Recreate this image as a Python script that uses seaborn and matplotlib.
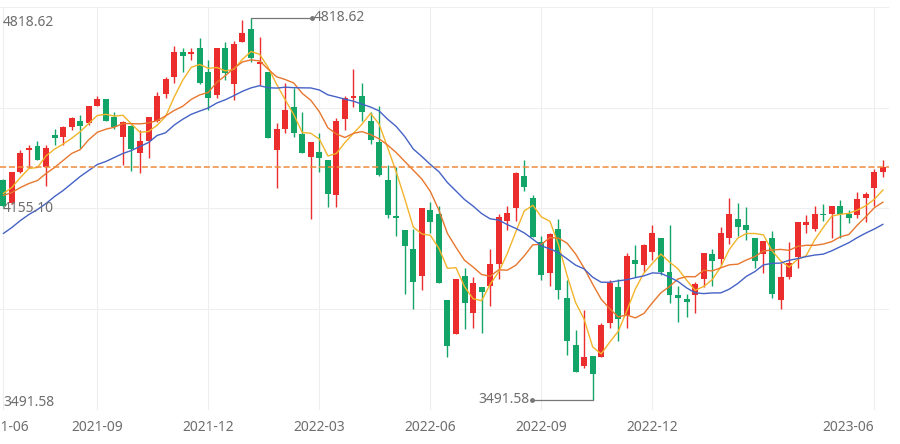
import numpy as np
import pandas as pd
import matplotlib
matplotlib.use("Agg")
import matplotlib.pyplot as plt
import seaborn as sns

# ---------------- data (weekly candles) ----------------
dates = pd.date_range("2021-06-18", periods=104, freq="7D").strftime("%Y-%m-%d").tolist()

open_ = [4252.4, 4172.5, 4283.6, 4356.6, 4370.5, 4297.6, 4408.7, 4405.2, 4436.5, 4460.8,
         4450.4, 4512.9, 4533.8, 4471.3, 4401.8, 4440.0, 4346.2, 4391.3, 4460.8, 4554.6,
         4610.2, 4700.5, 4690.1, 4711.0, 4627.6, 4547.7, 4711.0, 4589.3, 4731.8, 4777.0,
         4658.8, 4631.0, 4356.6, 4433.0, 4506.0, 4412.2, 4332.3, 4353.1, 4325.3, 4203.7,
         4464.3, 4540.7, 4544.2, 4460.8, 4384.4, 4252.4, 4127.3, 4078.7, 4012.7, 3918.9,
         4148.2, 4134.3, 3835.5, 3717.4, 3918.9, 3793.8, 3880.7, 3884.2, 3964.0, 4110.0,
         4155.1, 4266.3, 4193.3, 4037.0, 3929.3, 4082.2, 3845.9, 3679.2, 3609.5, 3644.4,
         3637.5, 3759.0, 3880.7, 3783.4, 3977.9, 3957.1, 4005.7, 4050.9, 3936.2, 3852.9,
         3839.0, 3852.9, 3911.9, 3995.3, 3981.4, 4050.9, 4116.9, 4096.1, 4050.9, 3995.3,
         4050.9, 3835.5, 3915.4, 3984.9, 4099.5, 4085.6, 4134.3, 4134.3, 4165.5, 4137.7,
         4130.8, 4193.3, 4224.6, 4283.6]
high = [4259.3, 4283.6, 4356.6, 4374.0, 4391.3, 4374.0, 4429.6, 4440.0, 4471.3, 4478.2,
        4512.9, 4544.2, 4537.2, 4488.6, 4457.4, 4443.5, 4426.1, 4474.7, 4558.1, 4610.2,
        4717.9, 4714.4, 4711.0, 4745.7, 4672.7, 4711.0, 4731.8, 4735.3, 4808.2, 4818.62,
        4749.2, 4631.0, 4450.4, 4592.7, 4572.0, 4488.6, 4384.4, 4415.7, 4325.3, 4467.8,
        4544.2, 4638.0, 4592.7, 4488.6, 4512.9, 4304.5, 4297.6, 4078.7, 4085.6, 4155.1,
        4176.0, 4165.5, 3835.5, 3911.9, 3946.7, 3915.4, 3880.7, 4012.7, 4137.7, 4165.5,
        4280.2, 4325.3, 4203.7, 4061.3, 4071.7, 4116.9, 3905.0, 3734.7, 3804.2, 3644.4,
        3759.0, 3905.0, 3908.5, 3998.8, 4026.6, 4033.5, 4099.5, 4050.9, 4099.5, 3884.2,
        3859.8, 3901.5, 3998.8, 4016.1, 4089.1, 4193.3, 4172.5, 4158.6, 4050.9, 4043.9,
        4075.2, 3967.5, 4037.0, 4106.5, 4130.8, 4162.1, 4169.0, 4165.5, 4182.9, 4151.6,
        4210.7, 4210.7, 4290.6, 4321.9]
low = [4158.6, 4169.0, 4276.7, 4294.1, 4321.9, 4235.0, 4374.0, 4374.0, 4426.1, 4367.0,
       4446.9, 4509.5, 4457.4, 4429.6, 4304.5, 4287.1, 4276.7, 4328.8, 4453.9, 4540.7,
       4592.7, 4627.6, 4672.7, 4589.3, 4495.6, 4540.7, 4599.8, 4530.3, 4731.8, 4662.3,
       4582.4, 4398.3, 4224.6, 4415.7, 4401.8, 4346.2, 4116.9, 4280.2, 4158.6, 4158.6,
       4426.1, 4506.0, 4460.8, 4380.9, 4266.3, 4123.8, 4061.3, 3859.8, 3807.7, 3873.7,
       4071.7, 3898.0, 3637.5, 3717.4, 3738.2, 3741.7, 3720.9, 3818.1, 3911.9, 4078.7,
       4110.0, 4217.6, 4057.8, 3905.0, 3887.6, 3839.0, 3647.9, 3585.4, 3602.7, 3491.58,
       3637.5, 3741.7, 3696.5, 3741.7, 3915.4, 3932.8, 3974.5, 3922.4, 3825.1, 3762.5,
       3779.9, 3793.8, 3880.7, 3884.2, 3957.1, 4033.5, 4061.3, 4047.4, 3946.7, 3929.3,
       3845.9, 3807.7, 3911.9, 3950.1, 4071.7, 4075.2, 4110.0, 4050.9, 4050.9, 4103.0,
       4120.4, 4106.5, 4165.5, 4262.8]
close = [4165.5, 4280.2, 4349.6, 4367.0, 4325.3, 4367.0, 4398.3, 4436.5, 4467.8, 4440.0,
         4509.5, 4537.2, 4457.4, 4436.5, 4453.9, 4360.1, 4391.3, 4471.3, 4544.2, 4606.7,
         4697.1, 4683.2, 4697.1, 4592.7, 4540.7, 4711.0, 4624.1, 4724.9, 4766.5, 4676.2,
         4662.3, 4398.3, 4429.6, 4499.0, 4419.1, 4349.6, 4384.4, 4328.8, 4207.2, 4460.8,
         4540.7, 4544.2, 4488.6, 4394.8, 4273.2, 4130.8, 4123.8, 4023.1, 3901.5, 4155.1,
         4106.5, 3898.0, 3675.7, 3911.9, 3825.1, 3898.0, 3863.3, 3960.6, 4127.3, 4141.2,
         4276.7, 4228.1, 4057.8, 3925.8, 4064.8, 3873.7, 3693.1, 3585.4, 3637.5, 3581.9,
         3752.1, 3898.0, 3772.9, 3991.8, 3964.0, 4026.6, 4068.3, 3932.8, 3852.9, 3845.9,
         3832.0, 3891.1, 3998.8, 3971.0, 4068.3, 4134.3, 4089.1, 4078.7, 3971.0, 4043.9,
         3859.8, 3915.4, 3967.5, 4106.5, 4106.5, 4134.3, 4130.8, 4165.5, 4137.7, 4123.8,
         4189.8, 4207.2, 4280.2, 4297.6]

# moving averages for the first weeks (window starts before the visible range)
ma5_head = [4207.2, 4228.1, 4262.8, 4294.1]
ma10_head = [4200.3, 4210.7, 4228.1, 4241.9, 4252.4, 4276.7, 4297.6, 4321.9, 4346.2]
ma20_head = [4068.3, 4089.1, 4113.4, 4134.3, 4151.6, 4172.5, 4196.8, 4217.6, 4241.9, 4266.3,
             4287.1, 4307.9, 4318.4, 4332.3, 4346.2, 4356.6, 4370.5, 4384.4, 4408.7]

tick_labels = ["2021-06", "2021-09", "2021-12", "2022-03", "2022-06", "2022-09", "2022-12", "2023-06"]

# ---------------- styling ----------------
sns.set_theme(style="white")
plt.rcParams["font.family"] = ["Noto Sans", "DejaVu Sans"]

UP = "#eb2d2d"
DOWN = "#13a468"
C_MA5 = "#f2b42a"
C_MA10 = "#e8772e"
C_MA20 = "#4562c6"
GRID = "#eeeeee"
TXT = "#6e6e6e"

df = pd.DataFrame({"date": dates, "open": open_, "high": high, "low": low, "close": close})
df["idx"] = np.arange(len(df))
cs = df["close"]
for n, head in ((5, ma5_head), (10, ma10_head), (20, ma20_head)):
    roll = cs.rolling(n).mean().to_numpy()
    df[f"ma{n}"] = np.concatenate([head, roll[n - 1:]])

fig = plt.figure(figsize=(9, 4.44), dpi=100)
ax = fig.add_axes([0, 34 / 444, 889 / 900, 403 / 444])

hmax, lmin = df["high"].max(), df["low"].min()
rng = hmax - lmin
pad = rng * 10.5 / 382
y0, y1 = lmin - pad, hmax + pad
ax.set_ylim(y0, y1)
ax.set_xlim(-0.39, len(df) - 1 + 0.7)

# grid
ax.set_yticks(np.linspace(y0, y1, 5))
ax.set_yticklabels([])
tick_pos = [next(i for i, d in enumerate(dates) if d.startswith(t)) for t in tick_labels]
ax.set_xticks(tick_pos)
ax.set_xticklabels(tick_labels, fontsize=10, color=TXT)
ax.get_xticklabels()[-1].set_ha("right")
ax.tick_params(axis="both", length=0, pad=7)
ax.grid(True, color=GRID, lw=0.8)
ax.set_axisbelow(True)
for s in ax.spines.values():
    s.set_visible(False)

# candles
up = df["close"] >= df["open"]
colors = np.where(up, UP, DOWN)
ax.vlines(df["idx"], df["low"], df["high"], colors=colors, lw=1.0, zorder=2)
body_lo = np.minimum(df["open"], df["close"])
body_h = np.maximum(np.abs(df["close"] - df["open"]), rng * 1.5 / 382)
ax.bar(df["idx"], body_h, bottom=body_lo, width=0.7, color=colors, lw=0, zorder=3)

# moving averages
for col, c in (("ma5", C_MA5), ("ma10", C_MA10), ("ma20", C_MA20)):
    sns.lineplot(data=df, x="idx", y=col, color=c, lw=1.0, ax=ax, zorder=4)
ax.set_xlabel("")
ax.set_ylabel("")

# last close dashed line
last = df["close"].iloc[-1]
ln = ax.axhline(last, color="#ef8a3a", lw=1.1, zorder=5)
ln.set_dashes([4, 1.8])

# max / min markers
imax = int(df["high"].idxmax())
imin = int(df["low"].idxmin())
seg = 7.1
ax.plot([imax, imax + seg], [hmax, hmax], color="#777777", lw=0.9, zorder=5)
ax.plot(imax + seg, hmax, "o", color="#777777", ms=2.5, zorder=5)
ax.text(imax + seg + 0.25, hmax, f"{hmax:.2f}", fontsize=10, color=TXT, va="center", ha="left")
ax.plot([imin, imin - seg], [lmin, lmin], color="#777777", lw=0.9, zorder=5)
ax.plot(imin - seg, lmin, "o", color="#777777", ms=2.5, zorder=5)
ax.text(imin - seg - 0.25, lmin, f"{lmin:.2f}", fontsize=10, color=TXT, va="center", ha="right")

# inside y labels (max / mid / min)
mid = (hmax + lmin) / 2
ax.text(0.0035, (410 - 22) / 403, f"{hmax:.2f}", transform=ax.transAxes, fontsize=10, color=TXT, va="center", ha="left")
ax.text(0.0035, 0.5, f"{mid:.2f}", transform=ax.transAxes, fontsize=10, color=TXT, va="center", ha="left", zorder=6)
ax.text(0.0035, (410 - 402) / 403, f"{lmin:.2f}", transform=ax.transAxes, fontsize=10, color=TXT, va="center", ha="left")

fig.savefig("out.png", dpi=100)
